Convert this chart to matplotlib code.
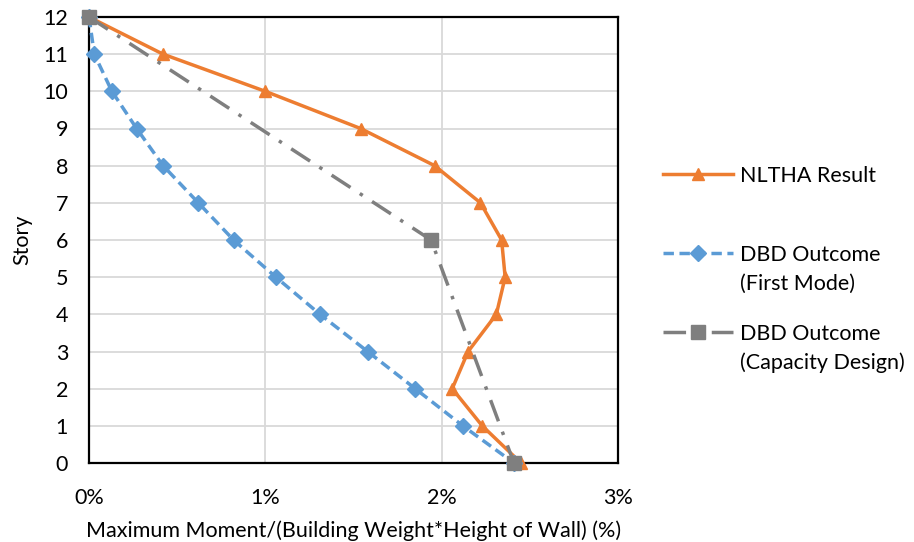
import matplotlib.pyplot as plt
from matplotlib.ticker import FuncFormatter

plt.rcParams["font.family"] = ["Lato", "DejaVu Sans"]

stories = [12, 11, 10, 9, 8, 7, 6, 5, 4, 3, 2, 1, 0]
nltha = [0.00, 0.42, 1.00, 1.54, 1.96, 2.22, 2.34, 2.36, 2.31, 2.15, 2.06, 2.23, 2.45]
dbd_first = [0.00, 0.03, 0.13, 0.27, 0.42, 0.62, 0.82, 1.06, 1.31, 1.58, 1.85, 2.12, 2.41]
cap_stories = [12, 6, 0]
dbd_capacity = [0.00, 1.94, 2.41]

labels = ["NLTHA Result", "DBD Outcome", "DBD Outcome"]
second_lines = [None, "(First Mode)", "(Capacity Design)"]

fs = 15.5

fig = plt.figure(figsize=(9.14, 5.42), dpi=100)
ax = fig.add_axes([89 / 914, 1 - 463 / 542, (618 - 89) / 914, (463 - 17) / 542])

h1, = ax.plot(nltha, stories, color="#ED7D31", linewidth=2.5, marker="^",
              markersize=9, label=labels[0], zorder=3, clip_on=False)
h2, = ax.plot(dbd_first, stories, color="#5B9BD5", linewidth=2.5,
              dashes=(3, 1.6), marker="D", markersize=8.5, label=labels[1],
              zorder=4, clip_on=False)
h3, = ax.plot(dbd_capacity, cap_stories, color="#7F7F7F", linewidth=2.5,
              dashes=(6.5, 3.2, 1, 3.2), marker="s", markersize=10,
              label=labels[2], zorder=5, clip_on=False)

ax.set_xlim(0, 3)
ax.set_ylim(0, 12)
ax.set_xticks([0, 1, 2, 3])
ax.set_yticks(range(0, 13))
ax.xaxis.set_major_formatter(FuncFormatter(lambda v, p: f"{v:.0f}%"))
ax.tick_params(length=0, labelsize=fs, colors="#000000")
ax.tick_params(axis="y", pad=15)
ax.tick_params(axis="x", pad=18)
ax.grid(True, color="#D9D9D9", linewidth=1.3)
ax.set_axisbelow(True)
for s in ax.spines.values():
    s.set_linewidth(1.6)
    s.set_color("#000000")

ax.set_xlabel("Maximum Moment/(Building Weight*Height of Wall) (%)", fontsize=fs, labelpad=9)
ax.set_ylabel("Story", fontsize=fs, labelpad=8)

leg = fig.legend(handles=[h1, h2, h3], loc="upper left",
                 bbox_to_anchor=(663 / 914, 1 - 166 / 542), frameon=False,
                 fontsize=fs, handlelength=3.25, handletextpad=0.33,
                 labelspacing=2.73, borderaxespad=0, borderpad=0)

fig.canvas.draw()
renderer = fig.canvas.get_renderer()
inv = fig.transFigure.inverted()
for txt, extra in zip(leg.get_texts(), second_lines):
    if extra is None:
        continue
    bb = txt.get_window_extent(renderer)
    x0, y0 = inv.transform((bb.x0, bb.y0))
    fig.text(x0, y0 - 29 / 542, extra, fontsize=fs, ha="left", va="bottom")

fig.savefig("out.png", dpi=100)
